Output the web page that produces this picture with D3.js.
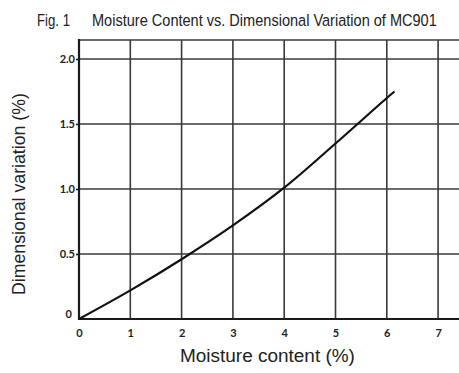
<!DOCTYPE html>
<html>
<head>
<meta charset="utf-8">
<script src="https://cdn.jsdelivr.net/npm/d3@7"></script>
<style>
  body { margin: 0; background: #fff; }
  svg { display: block; }
</style>
</head>
<body>
<svg id="chart" width="459" height="373"></svg>
<script>
// data
const moisture = [0, 1, 2, 3, 4, 5, 6, 6.15];
const variation = [0, 0.22, 0.46, 0.72, 1.01, 1.35, 1.70, 1.75];
const xTicks = [0, 1, 2, 3, 4, 5, 6, 7];
const yTicks = [0.5, 1.0, 1.5, 2.0];

const svg = d3.select('#chart');
const plotLeft = 79, plotBottom = 319, plotTop = 40;
const yMax = 2.146;
const narrow = 'Liberation Sans, Arial, sans-serif';

// set up scales
const x = d3.scaleLinear().domain([0, 8]).range([plotLeft, plotLeft + 8 * 51.3]);
const y = d3.scaleLinear().domain([0, yMax]).range([plotBottom, plotTop]);

// squeezed text, the figure uses a condensed face
function squeezed(str, len, size, tx, ty, rot) {
  const g = svg.append('g');
  const t = g.append('text')
    .attr('font-family', narrow)
    .attr('font-size', size)
    .attr('fill', '#222')
    .text(str);
  const sx = len / t.node().getComputedTextLength();
  g.attr('transform', 'translate(' + tx + ',' + ty + ')' + (rot ? ' rotate(' + rot + ')' : '') + ' scale(' + sx + ',1)');
  return t;
}

// title
squeezed('Fig. 1', 33, 17, 37, 26);
squeezed('Moisture Content vs. Dimensional Variation of MC901', 345, 17, 92, 26);

// grid
const grid = svg.append('g').attr('stroke', '#3a3a3a').attr('stroke-width', 1.6);
grid.selectAll('.vg').data(xTicks.slice(1)).join('line')
  .attr('x1', d => x(d)).attr('x2', d => x(d))
  .attr('y1', y(yMax)).attr('y2', plotBottom);
grid.selectAll('.hg').data(yTicks.concat([yMax])).join('line')
  .attr('x1', plotLeft).attr('x2', 459)
  .attr('y1', d => y(d)).attr('y2', d => y(d));

// axes
const xAxis = d3.axisBottom(x).tickValues(xTicks).tickSize(0).tickFormat(d3.format('d'));
const yAxis = d3.axisLeft(y).tickValues(yTicks).tickSize(3).tickFormat(d3.format('.1f'));

const gx = svg.append('g').attr('transform', 'translate(0,' + plotBottom + ')').call(xAxis);
gx.select('.domain').remove();
gx.selectAll('text')
  .attr('dy', 0).attr('y', 18)
  .attr('font-family', 'Lato, sans-serif').attr('font-weight', 'bold')
  .attr('font-size', 11).attr('fill', '#222');

const gy = svg.append('g').attr('transform', 'translate(' + plotLeft + ',0)').call(yAxis);
gy.select('.domain').remove();
gy.selectAll('line').attr('stroke', '#222').attr('stroke-width', 1.6);
gy.selectAll('text')
  .attr('x', -4)
  .attr('font-family', 'Lato, sans-serif').attr('font-weight', 'bold')
  .attr('font-size', 11).attr('fill', '#222');

// the lonely zero on the y axis
svg.append('text')
  .attr('x', x(0) - 7).attr('y', y(0) - 1)
  .attr('text-anchor', 'end')
  .attr('font-family', 'Lato, sans-serif').attr('font-weight', 'bold')
  .attr('font-size', 11).attr('fill', '#222')
  .text('0');

// axis lines
svg.append('line')
  .attr('x1', plotLeft).attr('x2', plotLeft).attr('y1', y(yMax) - 1).attr('y2', plotBottom + 1)
  .attr('stroke', '#1a1a1a').attr('stroke-width', 2.2);
svg.append('line')
  .attr('x1', plotLeft).attr('x2', 459).attr('y1', plotBottom).attr('y2', plotBottom)
  .attr('stroke', '#1a1a1a').attr('stroke-width', 2.2);

// the curve
const line = d3.line()
  .x((d, i) => x(moisture[i]))
  .y(d => y(d))
  .curve(d3.curveCatmullRom.alpha(0.5));
svg.append('path')
  .datum(variation)
  .attr('d', line)
  .attr('fill', 'none')
  .attr('stroke', '#111')
  .attr('stroke-width', 2.2);

// axis titles
squeezed('Moisture content  (%)', 175, 18, 180, 362);
squeezed('Dimensional variation  (%)', 202, 18, 25, 295, -90);
</script>
</body>
</html>
